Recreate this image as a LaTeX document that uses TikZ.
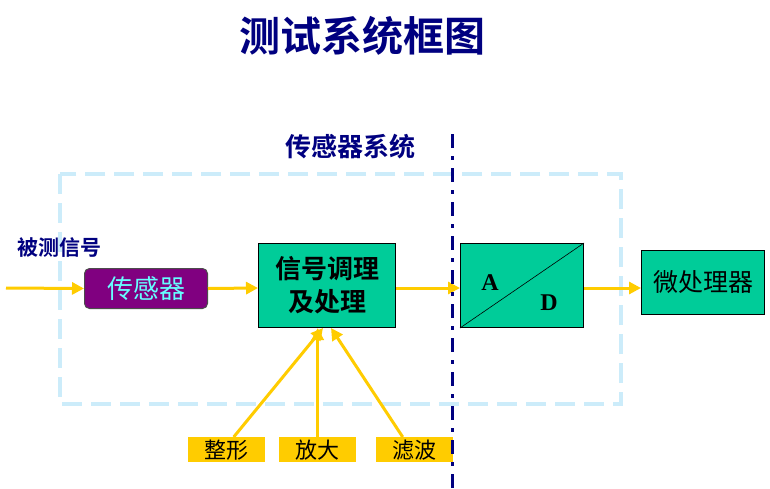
\documentclass[tikz,border=0pt]{standalone}
\usepackage{fontspec}
\setmainfont{Liberation Serif}
\newfontfamily\cjk{Noto Sans CJK SC}
\newfontfamily\cjkb{Noto Sans CJK SC Bold}
\usetikzlibrary{arrows.meta}
\definecolor{navyc}{RGB}{0,0,128}
\definecolor{yel}{RGB}{255,204,0}
\definecolor{grn}{RGB}{0,204,153}
\definecolor{purp}{RGB}{128,0,128}
\definecolor{cyant}{RGB}{102,255,255}
\definecolor{lblue}{RGB}{204,236,250}
\tikzset{
  flow/.style={draw=yel,line width=3pt,-{Triangle[length=12pt,width=12pt]}},
  gbox/.style={draw=black,line width=1pt,fill=grn,inner sep=0pt,anchor=north west},
  ybox/.style={fill=yel,inner sep=0pt,anchor=north west,minimum width=77pt,minimum height=25pt,font=\cjk\fontsize{22}{24}\selectfont}
}
\begin{document}
\begin{tikzpicture}[x=1pt,y=-1pt]
\useasboundingbox (0,0) rectangle (770,488);
\fill[white] (0,0) rectangle (770,488);
% title
\node[text=navyc,font=\cjkb\fontsize{41}{44}\selectfont] (title) at (362,36) {测试系统框图};
\node[text=navyc,font=\cjkb\fontsize{26}{28}\selectfont] (sys) at (350,147) {传感器系统};
% dashed sensor-system frame
\draw[lblue,line width=3.5pt,dash pattern=on 20pt off 9pt] (60,174) rectangle (621,404);
% boxes
\node[text=navyc,font=\cjkb\fontsize{21}{24}\selectfont,anchor=west] (meas) at (14,248) {被测信号};
\node[draw=black!70,line width=1pt,fill=purp,rounded corners=5pt,anchor=north west,minimum width=123pt,minimum height=40pt,inner sep=0pt,text=cyant,font=\cjk\fontsize{26}{28}\selectfont] (sensor) at (84,268) {传感器};
\node[gbox,minimum width=137pt,minimum height=84pt,align=center,font=\cjkb\fontsize{26}{33}\selectfont] (cond) at (258,243) {信号调理\\及处理};
\node[gbox,minimum width=123pt,minimum height=84pt] (ad) at (460,243) {};
\draw[black,line width=0.6pt] (ad.south west) -- (ad.north east);
\node[font=\bfseries\fontsize{24}{26}\selectfont] (A) at (490,283) {A};
\node[font=\bfseries\fontsize{24}{26}\selectfont] (D) at (549,303) {D};
\node[gbox,minimum width=123pt,minimum height=64pt,font=\cjk\fontsize{25}{28}\selectfont] (mcu) at (641,250) {微处理器};
\node[ybox] (shape) at (188,437) {整形};
\node[ybox] (amp) at (279,437) {放大};
\node[ybox] (filt) at (376,437) {滤波};
% connectors
\coordinate (mid) at (0,288);
\coordinate (in) at (6,288);
\draw[flow] (in) -- (sensor.west);
\draw[flow] (sensor.east) -- (cond.west |- mid);
\draw[flow] (cond.east |- mid) -- (ad.west |- mid);
\draw[flow] (ad.east |- mid) -- (mcu.west |- mid);
\draw[flow] ([xshift=7pt]shape.north -| shape.center) -- ([xshift=-4pt]cond.south);
\draw[flow] (amp.north) -- (amp.north|-cond.south);
\draw[flow] ([xshift=-12pt]filt.north) -- ([xshift=4pt]cond.south);
% dash-dot separator
\coordinate (sepT) at (452,134);
\coordinate (sepB) at (452,488);
\draw[navyc,line width=3pt,dash pattern=on 14pt off 8pt on 4pt off 8pt] (sepT) -- (sepB);
\end{tikzpicture}
\end{document}
